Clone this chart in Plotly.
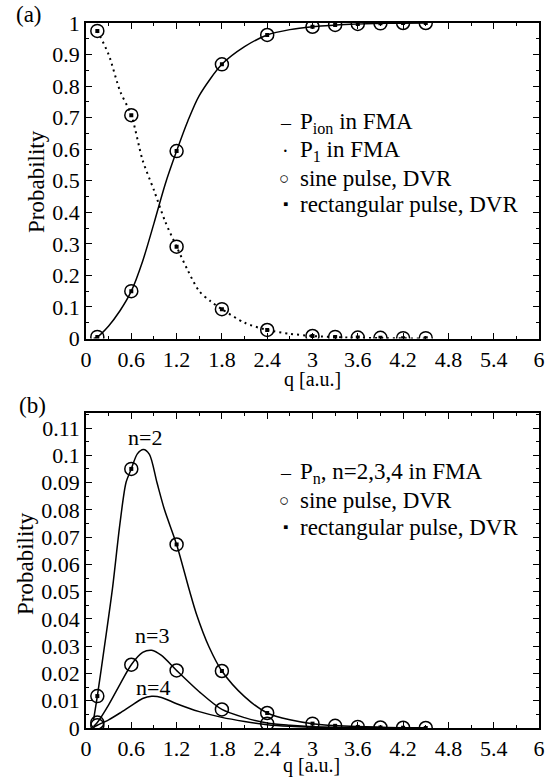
import plotly.graph_objects as go

# ---------------- data ----------------
q_dvr = [0.15, 0.6, 1.2, 1.8, 2.4, 3.0, 3.3, 3.6, 3.9, 4.2, 4.5]

# panel (a)
pion_dvr = [0.005, 0.15, 0.594, 0.869, 0.962, 0.988, 0.994, 0.997, 0.999, 1.0, 1.0]
p1_dvr = [0.975, 0.708, 0.291, 0.093, 0.027, 0.008, 0.005, 0.003, 0.002, 0.001, 0.001]

q_pion = [0.1, 0.15, 0.3, 0.45, 0.6, 0.75, 0.9, 1.05, 1.2, 1.35, 1.5, 1.8, 2.1, 2.4, 2.7, 3.0, 3.5, 4.0, 4.5]
pion_fma = [0.0, 0.005, 0.04, 0.088, 0.15, 0.245, 0.365, 0.49, 0.594, 0.69, 0.77, 0.869, 0.925, 0.962, 0.979, 0.988, 0.996, 0.999, 1.0]

q_p1 = [0.15, 0.3, 0.45, 0.6, 0.75, 0.9, 1.05, 1.2, 1.35, 1.5, 1.65, 1.8, 2.1, 2.4, 2.7, 3.0, 3.5, 4.0, 4.5]
p1_fma = [0.975, 0.9, 0.785, 0.708, 0.565, 0.47, 0.37, 0.291, 0.215, 0.15, 0.118, 0.093, 0.05, 0.027, 0.015, 0.008, 0.003, 0.001, 0.0]

# panel (b)
n2_dvr = [0.0117, 0.095, 0.0673, 0.0209, 0.0055, 0.0016, 0.0008, 0.0004, 0.0002, 0.0001, 0.0]
q_n3_dvr = [0.15, 0.6, 1.2, 1.8, 2.4]
n3_dvr = [0.002, 0.0232, 0.0211, 0.0068, 0.0016]
q_n4_dvr = [0.15]
n4_dvr = [0.001]

q_n2 = [0.1, 0.15, 0.25, 0.35, 0.45, 0.53, 0.6, 0.68, 0.76, 0.84, 0.94, 1.04, 1.2, 1.37, 1.46, 1.63, 1.8, 2.1, 2.4, 2.7, 3.0, 3.5, 4.0, 4.5]
n2_fma = [0.003, 0.0117, 0.031, 0.051, 0.075, 0.09, 0.095, 0.1005, 0.1021, 0.1003, 0.09, 0.08, 0.0673, 0.0504, 0.042, 0.0297, 0.0209, 0.0115, 0.0055, 0.003, 0.0016, 0.0006, 0.0002, 0.0001]

q_n34 = [0.1, 0.15, 0.3, 0.45, 0.6, 0.75, 0.87, 1.0, 1.2, 1.5, 1.8, 2.1, 2.4, 2.7, 3.0, 3.5, 4.0, 4.5]
n3_fma = [0.0005, 0.002, 0.0085, 0.016, 0.0232, 0.0277, 0.0285, 0.0266, 0.0211, 0.0133, 0.0068, 0.0038, 0.0018, 0.001, 0.0005, 0.0002, 0.0001, 0.0]
n4_fma = [0.0003, 0.001, 0.003, 0.0055, 0.0082, 0.0108, 0.0116, 0.0112, 0.0089, 0.006, 0.0039, 0.0024, 0.0012, 0.0006, 0.0003, 0.0001, 0.0, 0.0]

x_ticks = [0, 0.6, 1.2, 1.8, 2.4, 3.0, 3.6, 4.2, 4.8, 5.4, 6.0]
x_ticktext = ["0", "0.6", "1.2", "1.8", "2.4", "3", "3.6", "4.2", "4.8", "5.4", "6"]
ya_ticks = [0, 0.1, 0.2, 0.3, 0.4, 0.5, 0.6, 0.7, 0.8, 0.9, 1.0]
ya_ticktext = ["0", "0.1", "0.2", "0.3", "0.4", "0.5", "0.6", "0.7", "0.8", "0.9", "1"]
yb_ticks = [0, 0.01, 0.02, 0.03, 0.04, 0.05, 0.06, 0.07, 0.08, 0.09, 0.1, 0.11]
yb_ticktext = ["0", "0.01", "0.02", "0.03", "0.04", "0.05", "0.06", "0.07", "0.08", "0.09", "0.1", "0.11"]

# ---------------- figure ----------------
W, H = 556, 778
ML, MR, MT, MB = 86, 17, 23, 50
FONT = "Liberation Serif, Times New Roman, serif"


def px(xp):
    return (xp - ML) / (W - ML - MR)


def py(yp):
    return (H - MB - yp) / (H - MT - MB)


fig = go.Figure()
LW = 1.5
circ = dict(symbol="circle-open", size=13, color="black", line=dict(width=1.5, color="black"))
sq = dict(symbol="square", size=4, color="black")
spl = dict(color="black", width=LW, shape="spline", smoothing=0.8)

# panel (a)
fig.add_trace(go.Scatter(x=q_pion, y=pion_fma, mode="lines", line=spl, xaxis="x", yaxis="y"))
fig.add_trace(go.Scatter(x=q_p1, y=p1_fma, mode="lines",
                         line=dict(color="black", width=2, dash="2px,4px", shape="spline", smoothing=0.8),
                         xaxis="x", yaxis="y"))
for ys in (pion_dvr, p1_dvr):
    fig.add_trace(go.Scatter(x=q_dvr, y=ys, mode="markers", marker=circ, xaxis="x", yaxis="y"))
    fig.add_trace(go.Scatter(x=q_dvr, y=ys, mode="markers", marker=sq, xaxis="x", yaxis="y"))

# panel (b)
for qq, ys in ((q_n2, n2_fma), (q_n34, n3_fma), (q_n34, n4_fma)):
    fig.add_trace(go.Scatter(x=qq, y=ys, mode="lines", line=spl, xaxis="x2", yaxis="y2"))
fig.add_trace(go.Scatter(x=q_dvr, y=n2_dvr, mode="markers", marker=circ, xaxis="x2", yaxis="y2"))
fig.add_trace(go.Scatter(x=q_dvr, y=n2_dvr, mode="markers", marker=sq, xaxis="x2", yaxis="y2"))
fig.add_trace(go.Scatter(x=q_n3_dvr, y=n3_dvr, mode="markers", marker=circ, xaxis="x2", yaxis="y2"))
fig.add_trace(go.Scatter(x=q_n4_dvr, y=n4_dvr, mode="markers", marker=circ, xaxis="x2", yaxis="y2"))

tickfont = dict(family=FONT, size=22, color="black")
axcommon = dict(showline=True, linecolor="black", linewidth=1.5, mirror="ticks",
                ticks="inside", ticklen=6, tickwidth=1.2, tickcolor="black",
                showgrid=False, zeroline=False, tickfont=tickfont, fixedrange=True)

ya_dom = [py(338.5), 1.0]
yb_dom = [0.0, py(413)]

fig.update_layout(
    width=W, height=H, margin=dict(l=ML, r=MR, t=MT, b=MB),
    paper_bgcolor="white", plot_bgcolor="white", showlegend=False,
    font=dict(family=FONT, color="black"),
    xaxis=dict(domain=[0, 1], anchor="y", range=[0, 6], tickvals=x_ticks, ticktext=x_ticktext,
               minor=dict(ticks="inside", ticklen=3, dtick=0.3, tick0=0, tickcolor="black", tickwidth=1), **axcommon),
    yaxis=dict(domain=ya_dom, anchor="x", range=[0, 1.0], tickvals=ya_ticks, ticktext=ya_ticktext,
               minor=dict(ticks="inside", ticklen=3, dtick=0.05, tick0=0, tickcolor="black", tickwidth=1), **axcommon),
    xaxis2=dict(domain=[0, 1], anchor="y2", range=[0, 6], tickvals=x_ticks, ticktext=x_ticktext,
                minor=dict(ticks="inside", ticklen=3, dtick=0.3, tick0=0, tickcolor="black", tickwidth=1), **axcommon),
    yaxis2=dict(domain=yb_dom, anchor="x2", range=[0, 0.1155], tickvals=yb_ticks, ticktext=yb_ticktext,
                minor=dict(ticks="inside", ticklen=3, dtick=0.005, tick0=0, tickcolor="black", tickwidth=1), **axcommon),
)

ann = []


def text(xp, yp, s, size=23, xanchor="left", angle=0):
    ann.append(dict(x=px(xp), y=py(yp), xref="paper", yref="paper", text=s, showarrow=False,
                    xanchor=xanchor, yanchor="middle", textangle=angle,
                    font=dict(family=FONT, size=size, color="black")))


# panel labels and axis titles
text(29, 15, "(a)", size=23, xanchor="center")
text(32, 405, "(b)", size=23, xanchor="center")
text(36, 182, "Probability", size=23, xanchor="center", angle=-90)
text(25, 564, "Probability", size=23, xanchor="center", angle=-90)
text(312, 379, "q [a.u.]", size=20, xanchor="center")
text(311, 765, "q [a.u.]", size=20, xanchor="center")

# legend (a)
text(286, 123, "–", size=20, xanchor="center")
text(298, 123, "P<sub>ion</sub> in FMA")
text(285, 151, "·", size=20, xanchor="center")
text(298, 151, "P<sub>1</sub> in FMA")
text(284, 178, "○", size=17, xanchor="center")
text(298, 178, "sine pulse, DVR")
text(285, 204, "▪", size=15, xanchor="center")
text(298, 204, "rectangular pulse, DVR")

# legend (b)
text(286, 473, "–", size=20, xanchor="center")
text(298, 473, "P<sub>n</sub>, n=2,3,4 in FMA")
text(284, 500, "○", size=17, xanchor="center")
text(298, 500, "sine pulse, DVR")
text(285, 527, "▪", size=15, xanchor="center")
text(298, 527, "rectangular pulse, DVR")

# curve labels (in data coordinates of panel b)
for qx, yv, s in ((0.78, 0.1065, "n=2"), (0.87, 0.034, "n=3"), (0.89, 0.0148, "n=4")):
    ann.append(dict(x=qx, y=yv, xref="x2", yref="y2", text=s, showarrow=False,
                    font=dict(family=FONT, size=22, color="black")))

fig.update_layout(annotations=ann)
fig.write_html("out.html")
